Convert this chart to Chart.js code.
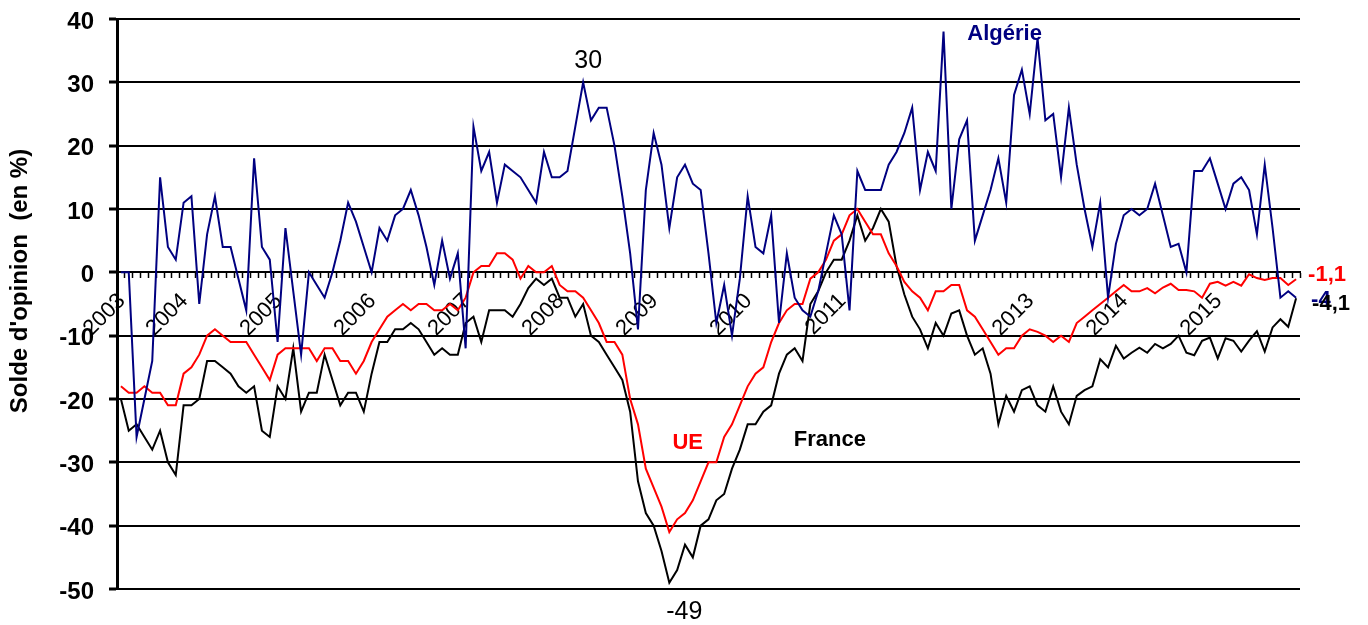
<!DOCTYPE html>
<html lang="fr">
<head>
<meta charset="utf-8">
<title>Solde d'opinion</title>
<script src="https://cdn.jsdelivr.net/npm/chart.js@4.4.1/dist/chart.umd.min.js"></script>
<style>
  html, body { margin: 0; padding: 0; background: #fff; }
  #grafico { display: block; }
</style>
</head>
<body>
<canvas id="grafico" width="1368" height="625"></canvas>
<script>
// DONNÉES (mensuelles, de mai 2003 à novembre 2015)
const algerie = [
  0, 0, -26, -20, -14, 15, 4, 2, 11, 12,
  -5, 6, 12, 4, 4, -1, -6, 18, 4, 2,
  -11, 7, -3, -13, 0, -2, -4, 0, 5, 11,
  8, 4, 0, 7, 5, 9, 10, 13, 9, 4,
  -2, 5, -1, 3, -12, 23, 16, 19, 11, 17,
  16, 15, 13, 11, 19, 15, 15, 16, 23, 30,
  24, 26, 26, 20, 12, 3, -9, 13, 22, 17,
  7, 15, 17, 14, 13, 3, -8, -2, -10, -1,
  12, 4, 3, 9, -8, 3, -4, -6, -7, -3,
  3, 9, 6, -6, 16, 13, 13, 13, 17, 19,
  22, 26, 13, 19, 16, 38, 10, 21, 24, 5,
  9, 13, 18, 11, 28, 32, 25, 37, 24, 25,
  15, 26, 17, 10, 4, 11, -4, 4.5, 9, 10,
  9, 10, 14, 9, 4, 4.5, 0, 16, 16, 18,
  14, 10, 14, 15, 13, 6, 17, 7, -4, -3,
  -4
];

const ue = [
  -18, -19, -19, -18, -19, -19, -21, -21, -16, -15,
  -13, -10, -9, -10, -11, -11, -11, -13, -15, -17,
  -13, -12, -12, -12, -12, -14, -12, -12, -14, -14,
  -16, -14, -11, -9, -7, -6, -5, -6, -5, -5,
  -6, -6, -5, -6, -4, 0, 1, 1, 3, 3,
  2, -1, 1, 0, 0, 1, -2, -3, -3, -4,
  -6, -8, -11, -11, -13, -20, -24, -31, -34, -37,
  -41, -39, -38, -36, -33, -30, -30, -26, -24, -21,
  -18, -16, -15, -11, -8, -6, -5, -5, -1, 0,
  2, 5, 6, 9, 10, 8, 6, 6, 3, 1,
  -1.5, -3, -4, -6, -3, -3, -2, -2, -6, -7,
  -9, -11, -13, -12, -12, -10, -9, -9.4, -10, -11,
  -10, -11, -8, -7, -6, -5, -4, -3, -2, -3,
  -3, -2.5, -3.3, -2.4, -1.8, -2.8, -2.8, -3, -4, -1.8,
  -1.5, -2.1, -1.5, -2.1, -0.3, -0.9, -1.2, -0.9, -0.9, -2,
  -1.1
];

const france = [
  -20, -25, -24, -26, -28, -25, -30, -32, -21, -21,
  -20, -14, -14, -15, -16, -18, -19, -18, -25, -26,
  -18, -20, -12, -22, -19, -19, -13, -17, -21, -19,
  -19, -22, -16, -11, -11, -9, -9, -8, -9, -11,
  -13, -12, -13, -13, -8, -7, -11, -6, -6, -6,
  -7, -5, -2.5, -1, -2, -1, -4, -4, -7, -5,
  -10, -11, -13, -15, -17, -22, -33, -38, -40, -44,
  -49, -47, -43, -45, -40, -39, -36, -35, -31, -28,
  -24, -24, -22, -21, -16, -13, -12, -14, -5, -3,
  0, 2, 2, 5, 9, 5, 7, 10, 8, 1,
  -3.5, -7, -9, -12, -8, -10, -6.5, -6, -10, -13,
  -12, -16, -24, -19.5, -22, -18.6, -18, -21, -22, -18,
  -22, -24, -19.5, -18.6, -18, -13.7, -15, -11.6, -13.6, -12.7,
  -11.9, -12.7, -11.3, -12, -11.3, -10, -12.7, -13.1, -10.8, -10.3,
  -13.6, -10.4, -10.8, -12.5, -10.8, -9.3, -12.5, -8.7, -7.4, -8.6,
  -4.1
];

// années affichées sur l'axe (2012 n'apparaît pas sur l'original)
const anneesAffichees = ['2003', '2004', '2005', '2006', '2007', '2008', '2009',
  '2010', '2011', '2013', '2014', '2015'];

const titreAxe = "Solde d'opinion  (en %)";

// mois de la série : premier point = mai 2003
const mois = [];
for (let k = 0; k < algerie.length; k++) {
  const m = 4 + k;
  mois.push((2003 + Math.floor(m / 12)) + '-' + String(m % 12 + 1).padStart(2, '0'));
}

const POLICE = '"Liberation Sans", Arial, Helvetica, sans-serif';
const BLEU = '#000080';
const ROUGE = '#ff0000';
const NOIR = '#000000';

Chart.defaults.font.family = POLICE;
Chart.defaults.color = NOIR;

const series = { algerie, ue, france };

// étiquettes de valeurs remarquables
const notes = [
  { serie: 'algerie', index: 59, dx: 5, dy: -21, couleur: NOIR, gras: false, taille: 25, align: 'center' },
  { serie: 'france', index: 70, dx: 15, dy: 29, couleur: NOIR, gras: false, taille: 25, align: 'center' },
  { serie: 'ue', index: ue.length - 1, dx: 12, dy: -4, couleur: ROUGE, gras: true, taille: 22, align: 'left' },
  { serie: 'algerie', index: algerie.length - 1, dx: 15, dy: 2, couleur: BLEU, gras: true, taille: 22, align: 'left' },
  { serie: 'france', index: france.length - 1, dx: 16, dy: 6, couleur: NOIR, gras: true, taille: 22, align: 'left' }
];

// noms des séries, placés en coordonnées du graphique (indice du mois, valeur)
const noms = [
  { texte: 'Algérie', i: 112.8, v: 37.6, couleur: BLEU },
  { texte: 'UE', i: 72.35, v: -27, couleur: ROUGE },
  { texte: 'France', i: 90.5, v: -26.5, couleur: NOIR }
];

function formater(v) {
  return String(v).replace('.', ',');
}

// TEXTES DESSINÉS PAR-DESSUS
const libelles = {
  id: 'libelles',
  afterDraw(chart) {
    const c = chart.ctx;
    const sx = chart.scales.x;
    const sy = chart.scales.y;

    c.save();
    c.translate(20, 281);
    c.rotate(-Math.PI / 2);
    c.font = 'bold 24px ' + POLICE;
    c.fillStyle = NOIR;
    c.textAlign = 'center';
    c.textBaseline = 'middle';
    c.fillText(titreAxe, 0, 0);
    c.restore();

    c.save();
    c.textBaseline = 'middle';
    noms.forEach(n => {
      c.font = 'bold 22px ' + POLICE;
      c.fillStyle = n.couleur;
      c.textAlign = 'center';
      c.fillText(n.texte, sx.getPixelForValue(n.i), sy.getPixelForValue(n.v));
    });
    notes.forEach(n => {
      const v = series[n.serie][n.index];
      c.font = (n.gras ? 'bold ' : '') + n.taille + 'px ' + POLICE;
      c.fillStyle = n.couleur;
      c.textAlign = n.align;
      c.fillText(formater(v), sx.getPixelForValue(n.index) + n.dx, sy.getPixelForValue(v) + n.dy);
    });
    c.restore();
  }
};

// GRAPHIQUE
const chart = new Chart(document.getElementById('grafico').getContext('2d'), {
  type: 'line',
  data: {
    labels: mois,
    datasets: [
      { label: 'Algérie', data: algerie, borderColor: BLEU, borderWidth: 2 },
      { label: 'UE', data: ue, borderColor: ROUGE, borderWidth: 2 },
      { label: 'France', data: france, borderColor: NOIR, borderWidth: 2 }
    ]
  },
  options: {
    responsive: false,
    animation: false,
    events: [],
    layout: { padding: { left: 5, top: 19, right: 68, bottom: 36 } },
    elements: {
      point: { radius: 0 },
      line: { tension: 0, fill: false }
    },
    plugins: {
      legend: { display: false },
      tooltip: { enabled: false }
    },
    scales: {
      x: {
        type: 'category',
        position: { y: 0 },
        offset: true,
        grid: {
          drawOnChartArea: false,
          drawTicks: true,
          offset: true,
          tickLength: 5,
          tickWidth: 1.5,
          tickColor: NOIR
        },
        border: { display: true, color: NOIR, width: 2 },
        ticks: {
          autoSkip: false,
          minRotation: 45,
          maxRotation: 45,
          padding: 11,
          labelOffset: 1,
          color: NOIR,
          font: { size: 22 },
          callback: function (value, index) {
            const m = mois[index];
            const annee = m.slice(0, 4);
            const debutAnnee = index === 0 || m.slice(5) === '01';
            return debutAnnee && anneesAffichees.includes(annee) ? annee : '';
          }
        },
        afterFit: s => { s.paddingLeft = 0; s.paddingRight = 0; }
      },
      y: {
        min: -50,
        max: 40,
        ticks: {
          stepSize: 10,
          padding: 15,
          labelOffset: 3,
          color: NOIR,
          font: { size: 24, weight: 'bold' }
        },
        grid: {
          color: NOIR,
          lineWidth: 2,
          drawTicks: true,
          tickLength: 8,
          tickWidth: 3,
          tickColor: NOIR
        },
        border: { display: true, color: NOIR, width: 3 },
        afterFit: s => { s.width = 112; s.paddingTop = 0; s.paddingBottom = 0; }
      }
    }
  },
  plugins: [libelles]
});
</script>
</body>
</html>
